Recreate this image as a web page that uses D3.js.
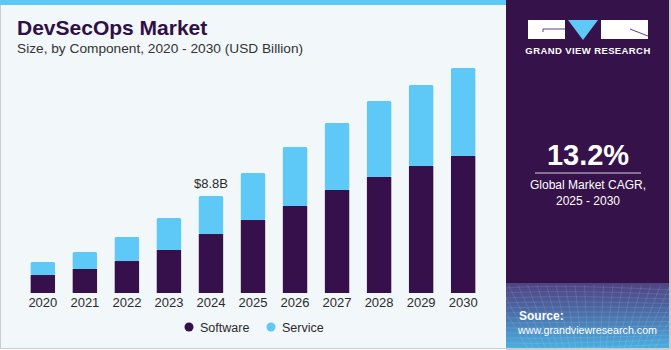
<!DOCTYPE html>
<html lang="en">
<head>
<meta charset="UTF-8">
<title>DevSecOps Market</title>
<script src="https://d3js.org/d3.v7.min.js"></script>
<style>
    body{ margin:0; background:#fff; }
    #canvas{ display:block; }
    .title{ font-family:"Liberation Sans", Arial, sans-serif; font-weight:900; font-size:21px; fill:#2f1045; }
    .subtitle{ font-family:"Liberation Sans", Arial, sans-serif; font-size:13.7px; fill:#333; }
    .tick text{ font-family:"Liberation Sans", Arial, sans-serif; font-size:13px; fill:#2b2b2b; }
    .legend text{ font-family:"Liberation Sans", Arial, sans-serif; font-size:12.5px; fill:#2b2b2b; }
    .panel text{ font-family:"Liberation Sans", Arial, sans-serif; fill:#fff; }
</style>
</head>
<body>
<svg id="canvas" width="671" height="350"></svg>
<script>
    // data
    let years = ["2020","2021","2022","2023","2024","2025","2026","2027","2028","2029","2030"]
    let software = [1.63, 2.18, 2.90, 3.90, 5.35, 6.62, 7.90, 9.35, 10.53, 11.52, 12.43]
    let service  = [1.18, 1.54, 2.18, 2.90, 3.45, 4.27, 5.35, 6.08, 6.89, 7.35, 7.99]
    let seriesNames = ["Software", "Service"]
    let colors = ["#36104a", "#5ec8f6"]

    let svg = d3.select("#canvas")

    // background card
    svg.append("rect").attr("x",0.5).attr("y",0.5).attr("width",670).attr("height",348)
        .attr("fill","#f2f7fa").attr("stroke","#c9cdd0")
    svg.append("rect").attr("x",0).attr("y",0).attr("width",506).attr("height",5).attr("fill","#5ec8f6")

    svg.append("text").attr("class","title").attr("x",17).attr("y",35).text("DevSecOps Market")
    svg.append("text").attr("class","subtitle").attr("x",17).attr("y",53)
        .text("Size, by Component, 2020 - 2030 (USD Billion)")

    // chart
    let baseline = 293
    let x = d3.scaleBand().domain(years).range([13, 493]).paddingInner(0.42).paddingOuter(0.42)
    let y = d3.scaleLinear().domain([0, 8.8]).range([baseline, baseline - 97])

    let table = years.map((yr,i)=>({year:yr, Software:software[i], Service:service[i]}))
    let stacked = d3.stack().keys(seriesNames)(table)

    let bars = svg.append("g")
    stacked.forEach((layer, li)=>{
        bars.append("g").attr("fill", colors[li])
            .selectAll("rect").data(layer).enter().append("rect")
            .attr("x", d=>x(d.data.year))
            .attr("width", x.bandwidth())
            .attr("y", d=>y(d[1]))
            .attr("height", d=>y(d[0]) - y(d[1]))
            .attr("rx", li===1 ? 1.5 : 0)
    })

    // value label on 2024
    let labelYear = "2024"
    let li24 = years.indexOf(labelYear)
    svg.append("text")
        .attr("x", x(labelYear) + x.bandwidth()/2)
        .attr("y", y(software[li24] + service[li24]) - 8)
        .attr("text-anchor","middle")
        .attr("font-family","Liberation Sans, Arial, sans-serif")
        .attr("font-size","13px").attr("fill","#2b2b2b")
        .text("$8.8B")

    let xAxis = d3.axisBottom(x).tickSize(0).tickPadding(5)
    let gx = svg.append("g").attr("transform",`translate(0,${baseline})`).call(xAxis)
    gx.select(".domain").remove()

    // legend
    let legend = svg.append("g").attr("class","legend")
    let legendX = [189, 271]
    seriesNames.forEach((name,i)=>{
        legend.append("circle").attr("cx",legendX[i]).attr("cy",327).attr("r",4.5).attr("fill",colors[i])
        legend.append("text").attr("x",legendX[i]+11).attr("y",331.5).text(name)
    })

    // right panel
    let defs = svg.append("defs")
    let grad = defs.append("linearGradient").attr("id","panelGrad").attr("x1",0).attr("y1",0).attr("x2",0).attr("y2",1)
    grad.append("stop").attr("offset","0%").attr("stop-color","#4f4282")
    grad.append("stop").attr("offset","45%").attr("stop-color","#4a6ea8")
    grad.append("stop").attr("offset","100%").attr("stop-color","#4bb0e2")

    let panel = svg.append("g").attr("class","panel")
    panel.append("rect").attr("x",506).attr("y",0).attr("width",164).attr("height",349).attr("fill","#36124a")
    panel.append("rect").attr("x",506).attr("y",283).attr("width",164).attr("height",66).attr("fill","url(#panelGrad)")
    // grid texture in the footer
    let grid = panel.append("g").attr("stroke","#ffffff").attr("stroke-opacity",0.18).attr("stroke-width",0.6)
    d3.range(0, 14).forEach(k=>{
        grid.append("path").attr("fill","none")
            .attr("d", `M506,${288 + k*5} Q560,${284 + k*5.5} 670,${290 + k*4.5}`)
    })
    d3.range(0, 22).forEach(k=>{
        let xx = 506 + k*8
        grid.append("line").attr("x1",xx + (k-11)*1.5).attr("y1",285).attr("x2",xx - (k-11)*2).attr("y2",349)
    })
    panel.append("rect").attr("x",669).attr("y",0).attr("width",2).attr("height",350).attr("fill","#c9cdd0")
    panel.append("rect").attr("x",506).attr("y",348).attr("width",165).attr("height",2).attr("fill","#c9cdd0")

    // logo
    let logo = panel.append("g")
    logo.append("rect").attr("x",528).attr("y",20).attr("width",37).attr("height",19).attr("fill","#fff")
    logo.append("path").attr("d","M543,32 L543,29 L565,29").attr("stroke","#36124a").attr("stroke-width",0.8).attr("fill","none")
    logo.append("path").attr("d","M568,20 L598,20 L583,40 Z").attr("fill","#5ec8f6")
    logo.append("rect").attr("x",601).attr("y",20).attr("width",47).attr("height",19).attr("fill","#fff")
    logo.append("path").attr("d","M630,29 L648,36").attr("stroke","#36124a").attr("stroke-width",0.8)
    logo.append("text").attr("x",588).attr("y",54).attr("text-anchor","middle")
        .attr("font-size","9.5px").attr("font-weight","bold").attr("letter-spacing","0.4px")
        .text("GRAND VIEW RESEARCH")

    panel.append("text").attr("x",588).attr("y",165).attr("text-anchor","middle")
        .attr("font-size","29px").attr("font-weight","bold").text("13.2%")
    panel.append("line").attr("x1",535).attr("x2",641).attr("y1",173).attr("y2",173)
        .attr("stroke","#d8cfe0").attr("stroke-width",1)
    panel.append("text").attr("x",588).attr("y",189).attr("text-anchor","middle")
        .attr("font-size","12px").text("Global Market CAGR,")
    panel.append("text").attr("x",588).attr("y",205).attr("text-anchor","middle")
        .attr("font-size","12px").text("2025 - 2030")

    panel.append("text").attr("x",519).attr("y",320).attr("font-size","12px").attr("font-weight","bold").text("Source:")
    panel.append("text").attr("x",518).attr("y",334).attr("font-size","11px")
        .attr("textLength",139).attr("lengthAdjust","spacingAndGlyphs").text("www.grandviewresearch.com")
</script>
</body>
</html>
